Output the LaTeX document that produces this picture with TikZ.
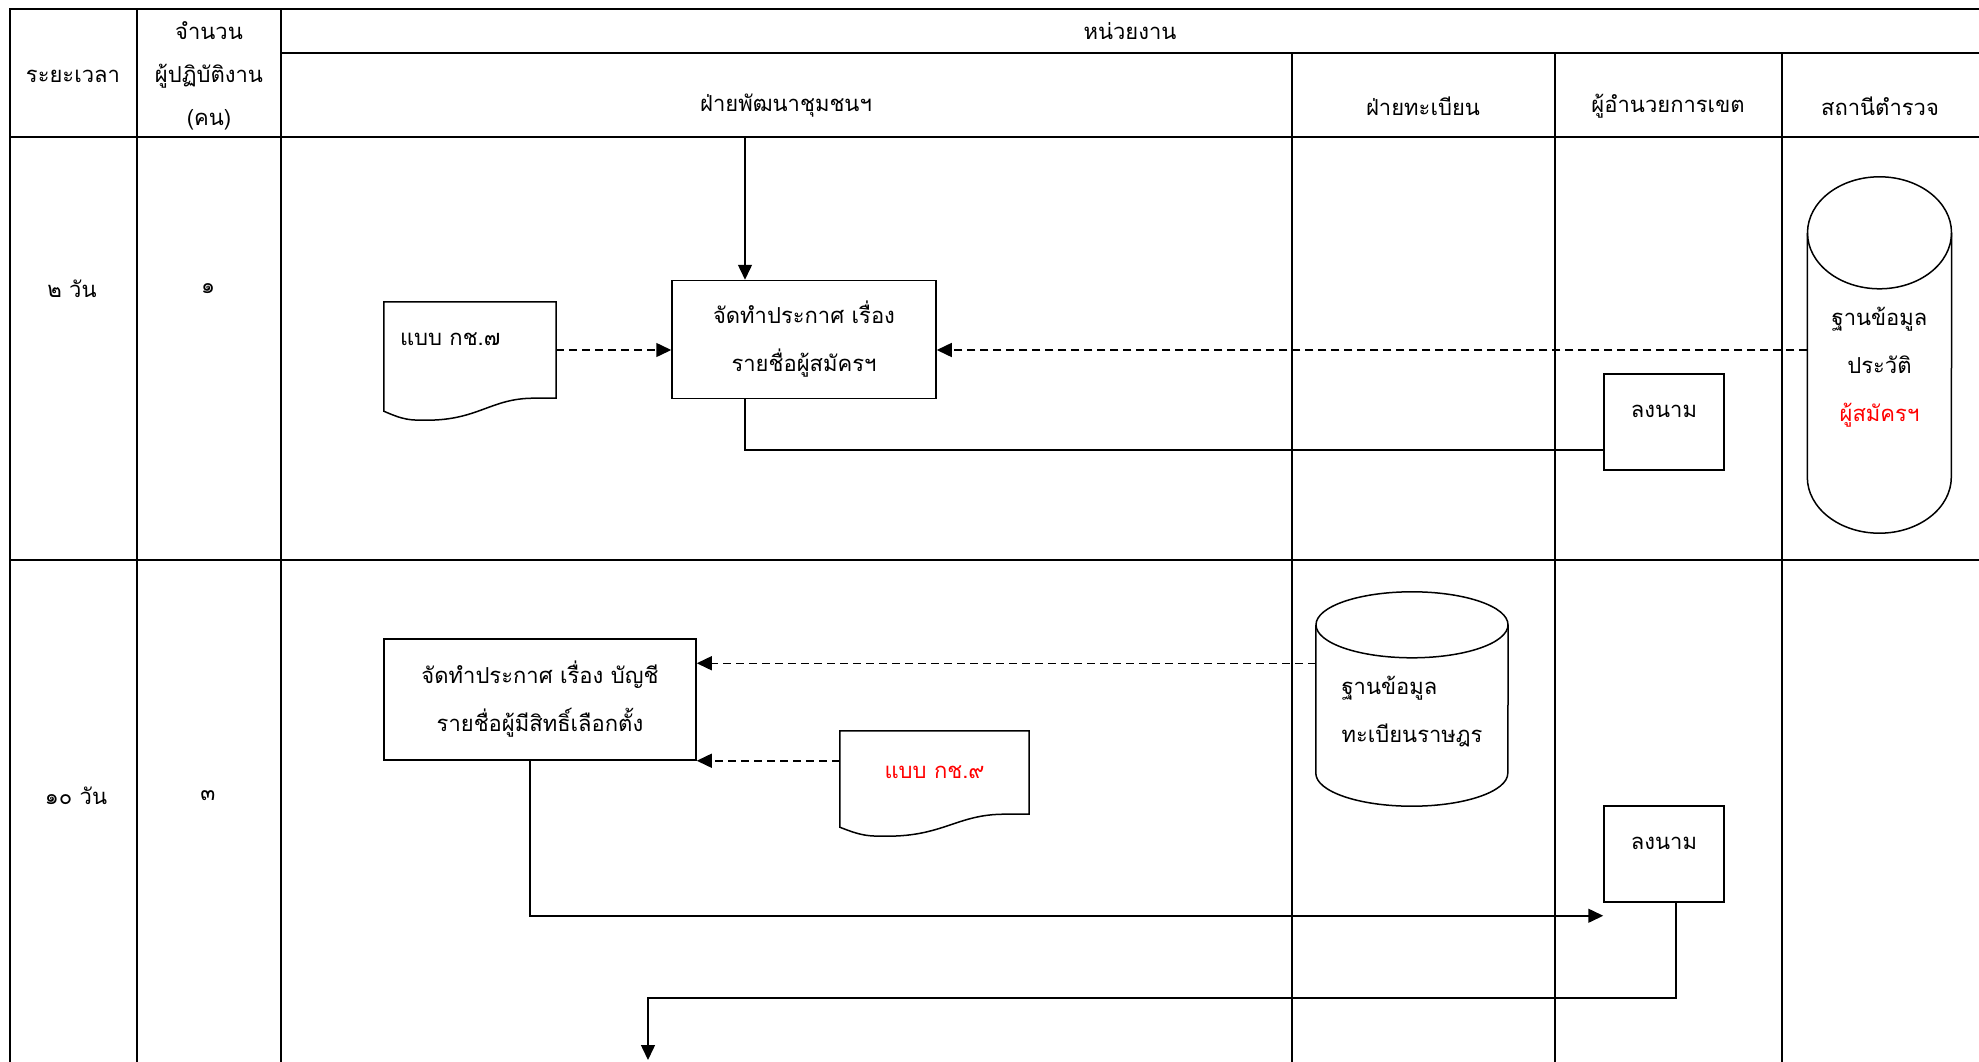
\documentclass[tikz,border=0pt]{standalone}
\usepackage{fontspec}
\newfontfamily\thaifont[Script=Thai]{Loma}
\usetikzlibrary{arrows.meta,calc}

% paper form with a wavy foot: node, width
\newcommand{\paperline}[2]{%
\draw[outline] (#1.south east) -- (#1.north east) -- (#1.north west)
	-- ([yshift=-13pt]#1.south west)
	.. controls +({0.12*#2},9) and +({-0.1*#2},0) .. ([xshift=0.25*#2pt,yshift=-22pt]#1.south west)
	.. controls +({0.3*#2},0) and +({-0.25*#2},0) .. ([xshift=-0.13*#2pt]#1.south east)
	-- cycle;}
% data store drum: node, x radius, y radius
\newcommand{\dbline}[3]{%
\draw[outline] ([yshift=-#3pt]#1.north) ellipse [x radius=#2pt, y radius=#3pt];
\draw[outline] ([yshift=-#3pt]#1.north west) -- ([yshift=#3pt]#1.south west)
	arc [start angle=180, end angle=360, x radius=#2pt, y radius=#3pt]
	-- ([yshift=-#3pt]#1.north east);}

\begin{document}
\begin{tikzpicture}
[x=1pt,y=-1pt%
,every node/.style={font=\thaifont\fontsize{22}{48}\selectfont,%
	align=center}%
,head/.style={font=\thaifont\fontsize{22}{43}\selectfont}%
,grid/.style={line width=2pt}%
,lane/.style={line width=1.5pt}%
,outline/.style={line width=1.5pt}%
,stepbox/.style={draw,line width=1.5pt,inner sep=0pt}%
,paper/.style={inner sep=0pt}%
,dbbox/.style={inner sep=0pt}%
,uptext/.style={text height=16pt,text depth=26pt}%
,flow/.style={line width=1.5pt,-{Triangle[length=15pt,width=14pt]}}%
,link/.style={flow,dash pattern=on 8pt off 5pt}]
\useasboundingbox (0,0) rectangle (1979,1062);

% table
\draw[grid] (9.5,1062) -- (9.5,8.6) -- (1979,8.6);
\draw[grid] (281,52.7) -- (1979,52.7);
\draw[grid] (9.5,136.7) -- (1979,136.7);
\draw[grid] (9.5,560) -- (1979,560);
\foreach \x in {137,281} \draw[grid] (\x,8.6) -- (\x,1062);
\foreach \x in {1292,1555,1782} \draw[lane] (\x,52.7) -- (\x,1062);

\node[head] (time) at (73,76) {ระยะเวลา};
\node[head] (staff) at (209,76) {จำนวน\\ผู้ปฏิบัติงาน\\(คน)};
\node[head] (unit) at (1130,31) {หน่วยงาน};
\foreach \x/\t [count=\i] in {786/ฝ่ายพัฒนาชุมชนฯ,1423/ฝ่ายทะเบียน,1668/ผู้อำนวยการเขต,1880/สถานีตำรวจ}
	\node[head] (lane\i) at (\x,106) {\t};

\node (days1) at (72,289) {๒ วัน};
\node (men1) at (208,289) {๑};
\node (days2) at (76,796) {๑๐ วัน};
\node (men2) at (208,796) {๓};

% step 1
\coordinate (entry) at (745,136.7);
\node[stepbox,minimum width=264pt,minimum height=118pt] (announce) at (804,339.5) {จัดทำประกาศ เรื่อง\\รายชื่อผู้สมัครฯ};
\node[paper,uptext,minimum width=172pt,minimum height=96pt,text width=140pt,align=left] (form7) at (470,350) {แบบ กช.๗};
\paperline{form7}{172}
\node[stepbox,uptext,minimum width=120pt,minimum height=96pt] (sign1) at (1664,422) {ลงนาม};
\node[dbbox,minimum width=144pt,minimum height=356pt,%
	label={[yshift=-12pt]center:ฐานข้อมูล\\ประวัติ\\\textcolor{red}{ผู้สมัครฯ}}] (history) at (1879.5,355) {};
\dbline{history}{72}{56}

\draw[flow] (entry) -- (entry |- announce.north);
\draw[link] (form7.east) -- (form7.east -| announce.west);
\draw[link] (history.west |- form7.east) -- (form7.east -| announce.east);
\draw[outline] (announce.south -| entry) |- ([yshift=-28pt]sign1.west);

% step 2
\node[stepbox,minimum width=312pt,minimum height=121pt] (roll) at (540,699.5) {จัดทำประกาศ เรื่อง บัญชี\\รายชื่อผู้มีสิทธิ์เลือกตั้ง};
\node[paper,minimum width=189pt,minimum height=83pt,text=red] (form9) at (934.5,772.5) {แบบ กช.๙};
\paperline{form9}{189}
\node[dbbox,minimum width=192pt,minimum height=214pt,%
	label={[yshift=-13pt,align=left]center:ฐานข้อมูล\\ทะเบียนราษฎร}] (registry) at (1412,699) {};
\dbline{registry}{96}{33}
\node[stepbox,uptext,minimum width=120pt,minimum height=96pt] (sign2) at (1664,854) {ลงนาม};
\coordinate (next) at (648,1060);

\draw[link] ([yshift=-25pt]roll.north east -| registry.west) -- ([yshift=-25pt]roll.north east);
\draw[link] (roll.south east -| form9.west) -- (roll.south east);
\draw[flow] ([xshift=-10pt]roll.south) |- ([yshift=-13pt]sign2.south west);
\draw[flow] ([xshift=12pt]sign2.south) |- ([yshift=62pt]next) -- (next);
\end{tikzpicture}
\end{document}
